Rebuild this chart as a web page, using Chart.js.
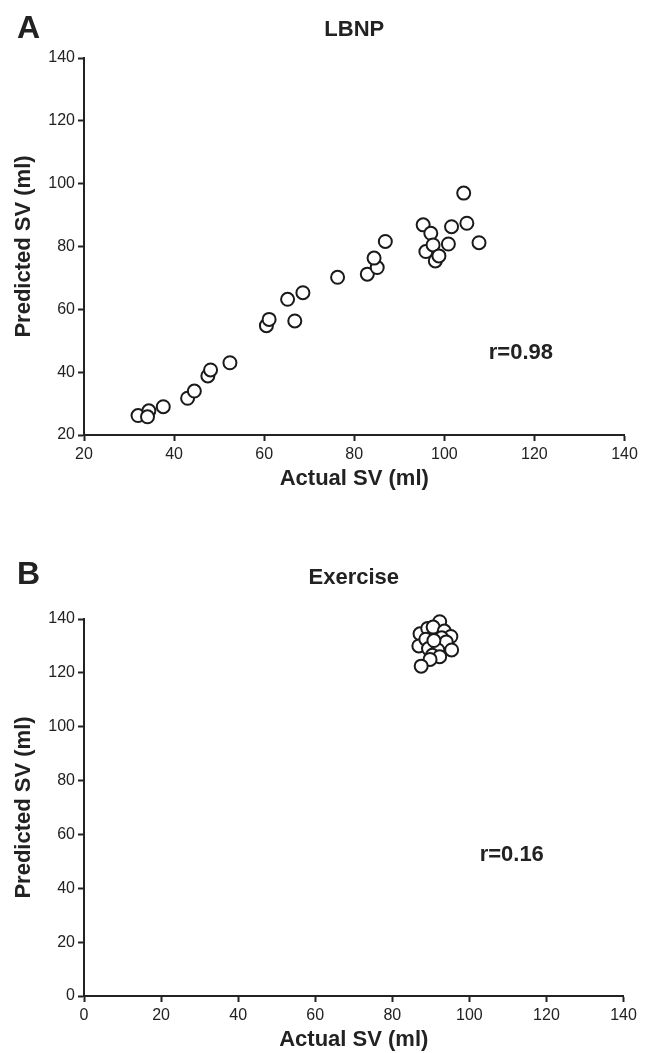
<!DOCTYPE html>
<html>
<head>
<meta charset="utf-8">
<script src="https://cdn.jsdelivr.net/npm/chart.js@4.4.1/dist/chart.umd.min.js"></script>
<style>
  body { margin: 0; background: #fff; }
  canvas { position: absolute; left: 0; }
</style>
</head>
<body>
<canvas id="chartA" width="649" height="500" style="top:0px"></canvas>
<canvas id="chartB" width="649" height="553" style="top:500px"></canvas>
<script>
// panel A - LBNP
var lbnpActual = [32.0, 34.4, 34.1, 37.6, 43.0, 44.5, 47.5, 48.1, 52.4, 60.5, 61.1, 65.2, 66.8, 68.6, 76.3,
    82.9, 85.1, 84.4, 86.9, 95.3, 95.9, 97.0, 97.5, 98.0, 98.8, 100.9, 101.6, 104.3, 105.0, 107.7];
var lbnpPredicted = [26.2, 27.7, 25.8, 29.0, 31.7, 34.0, 38.8, 40.7, 43.0, 54.8, 56.8, 63.2, 56.3, 65.3, 70.2,
    71.2, 73.3, 76.3, 81.6, 86.9, 78.4, 84.2, 80.5, 75.4, 77.0, 80.8, 86.3, 97.0, 87.4, 81.2];

// panel B - Exercise
var exActual = [92.3, 87.2, 89.2, 90.6, 93.5, 95.2, 86.9, 88.7, 92.8, 94.0, 95.4, 89.4, 91.8, 90.4, 92.3, 89.8, 87.5, 90.8];
var exPredicted = [139.0, 134.5, 136.5, 137.0, 135.5, 133.5, 130.0, 132.5, 133.0, 131.5, 128.5, 129.0, 128.5, 126.5, 126.0, 125.0, 122.5, 132.0];

var axisRangeA = [20, 140];
var axisRangeB = [0, 140];
var tickStep = 20;

var rTextA = 'r=0.98';
var rTextB = 'r=0.16';

function toPoints(xs, ys) {
    var pts = [];
    for (var i in xs) {
        pts.push({x: xs[i], y: ys[i]});
    }
    return pts;
}

var font = '"Liberation Sans", Arial, sans-serif';
var ink = '#222';

var panelText = {
    id: 'panelText',
    afterDraw: function(chart, args, opts) {
        var ctx = chart.ctx;
        var area = chart.chartArea;
        ctx.save();
        ctx.fillStyle = ink;
        ctx.textBaseline = 'middle';
        ctx.textAlign = 'left';
        ctx.font = 'bold 32px ' + font;
        ctx.fillText(opts.letter, 17, opts.letterY);
        ctx.textAlign = 'center';
        ctx.font = 'bold 22px ' + font;
        ctx.fillText(opts.title, (area.left + area.right) / 2, opts.titleY);
        var rx = chart.scales.x.getPixelForValue(opts.rAt[0]);
        var ry = chart.scales.y.getPixelForValue(opts.rAt[1]);
        ctx.fillText(opts.rText, rx, ry);
        ctx.restore();
    }
};

function makeChart(id, xs, ys, range, pad, text) {
    var ctx = document.getElementById(id).getContext('2d');
    var tickFont = {family: font, size: 16};
    var titleFont = {family: font, size: 22, weight: 'bold'};
    return new Chart(ctx, {
        type: 'scatter',
        data: {
            datasets: [{
                data: toPoints(xs, ys),
                clip: false,
                pointRadius: 6.5,
                pointHoverRadius: 6.5,
                borderWidth: 2,
                borderColor: '#1a1a1a',
                backgroundColor: '#fff'
            }]
        },
        options: {
            responsive: false,
            animation: false,
            devicePixelRatio: 1,
            layout: {padding: pad},
            plugins: {
                legend: {display: false},
                tooltip: {enabled: false},
                panelText: text
            },
            scales: {
                x: {
                    type: 'linear',
                    min: range[0],
                    max: range[1],
                    ticks: {stepSize: tickStep, font: tickFont, color: ink, padding: 4},
                    grid: {drawOnChartArea: false, drawTicks: true, tickLength: 6, tickColor: ink, tickWidth: 2},
                    border: {display: true, color: ink, width: 2},
                    title: {display: true, text: 'Actual SV (ml)', font: titleFont, color: ink, padding: {top: 0, bottom: 0}},
                    afterFit: function(s) { s.height = 57; }
                },
                y: {
                    type: 'linear',
                    min: range[0],
                    max: range[1],
                    ticks: {stepSize: tickStep, font: tickFont, color: ink, padding: 3},
                    grid: {drawOnChartArea: false, drawTicks: true, tickLength: 6, tickColor: ink, tickWidth: 2},
                    border: {display: true, color: ink, width: 2},
                    title: {display: true, text: 'Predicted SV (ml)', font: titleFont, color: ink, padding: {top: 11, bottom: 0}},
                    afterFit: function(s) { s.width = 84; }
                }
            }
        },
        plugins: [panelText]
    });
}

makeChart('chartA', lbnpActual, lbnpPredicted, axisRangeA,
    {top: 58, right: 24.5, bottom: 8, left: 0},
    {letter: 'A', letterY: 29, title: 'LBNP', titleY: 30, rText: rTextA, rAt: [117, 46]});

makeChart('chartB', exActual, exPredicted, axisRangeB,
    {top: 119, right: 25.5, bottom: 0, left: 0},
    {letter: 'B', letterY: 75, title: 'Exercise', titleY: 78, rText: rTextB, rAt: [111, 52.5]});
</script>
</body>
</html>
